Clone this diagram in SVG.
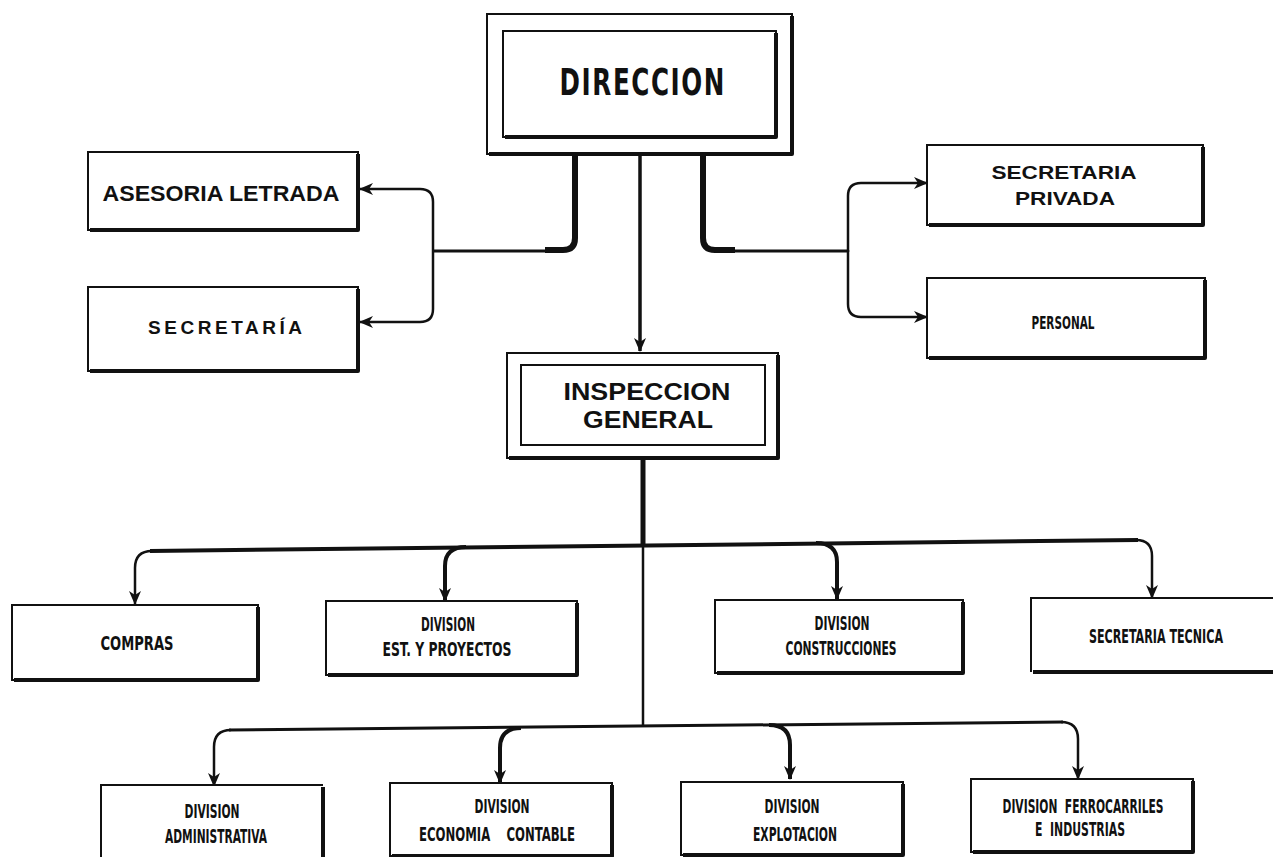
<svg xmlns="http://www.w3.org/2000/svg" width="1273" height="857" viewBox="0 0 1273 857">
<style>
.bx{fill:#fff;stroke:#111;stroke-width:2}
.nf{fill:#fff;stroke:none}
.sh{fill:none;stroke:#111;stroke-width:4;stroke-linejoin:round}
.ed{fill:none;stroke:#111;stroke-width:2}
.ln{fill:none;stroke:#111;stroke-linecap:butt;stroke-linejoin:round}
.h{font-family:"Liberation Sans",Arial,sans-serif;font-weight:bold;fill:#111;text-anchor:middle}
.c{font-family:"DejaVu Sans Condensed","Liberation Sans Narrow","DejaVu Sans",sans-serif;font-stretch:condensed;font-weight:bold;fill:#111;text-anchor:middle}
</style>
<defs>
<marker id="ar" viewBox="0 0 14 12" refX="13" refY="6" markerWidth="14" markerHeight="12" markerUnits="userSpaceOnUse" orient="auto">
<path d="M0,0 L14,6 L0,12 L4,6 Z" fill="#111"/>
</marker>
</defs>
<rect width="1273" height="857" fill="#fff"/>

<g id="connectors">
<path class="ln" stroke-width="3.5" d="M640,155 V351" marker-end="url(#ar)"/>
<path class="ln" stroke-width="6" d="M575,155 V238 Q575,250 563,250 H545"/>
<path class="ln" stroke-width="3" d="M550,251 H433"/>
<path class="ln" stroke-width="2.5" d="M433,252 V202 Q433,189 420,189 H360" marker-end="url(#ar)"/>
<path class="ln" stroke-width="2.5" d="M433,252 V309 Q433,322 420,322 H360" marker-end="url(#ar)"/>
<path class="ln" stroke-width="6" d="M703,155 V238 Q703,250 715,250 H735"/>
<path class="ln" stroke-width="3" d="M730,251 H848"/>
<path class="ln" stroke-width="2.5" d="M848,252 V196 Q848,183 861,183 H927" marker-end="url(#ar)"/>
<path class="ln" stroke-width="2.5" d="M848,250 V304 Q848,317 861,317 H927" marker-end="url(#ar)"/>
<path class="ln" stroke-width="5" d="M643,458 V544"/>
<path class="ln" stroke-width="2.5" d="M643,544 V726"/>
<path class="ln" stroke-width="4" d="M150,551 L1138,540"/>
<path class="ln" stroke-width="2.5" d="M152,551 Q135,551 135,568 V604" marker-end="url(#ar)"/>
<path class="ln" stroke-width="4" d="M466,547 Q445,547 445,566 V601" marker-end="url(#ar)"/>
<path class="ln" stroke-width="4" d="M816,543 Q837,543 837,562 V599" marker-end="url(#ar)"/>
<path class="ln" stroke-width="2.5" d="M1136,540 Q1152,540 1152,556 V598" marker-end="url(#ar)"/>
<path class="ln" stroke-width="3" d="M229,730 L1063,722"/>
<path class="ln" stroke-width="2.5" d="M231,730 Q214,730 214,747 V786" marker-end="url(#ar)"/>
<path class="ln" stroke-width="4" d="M521,728 Q500,728 500,748 V783" marker-end="url(#ar)"/>
<path class="ln" stroke-width="4" d="M769,725 Q790,725 790,745 V779" marker-end="url(#ar)"/>
<path class="ln" stroke-width="2.5" d="M1061,722 Q1078,722 1078,739 V779" marker-end="url(#ar)"/>
</g>

<g id="direccion">
<rect class="bx" x="487" y="14" width="305" height="140"/>
<path class="sh" stroke-width="5" d="M792,16 V154 H489"/>
<rect class="bx" stroke-width="3" x="503" y="31" width="273" height="106"/>
<path class="sh" d="M776,33 V137 H505"/>
<text class="c" transform="translate(642,95) scale(0.72,1)" x="0" y="0" font-size="38" textLength="229" lengthAdjust="spacing">DIRECCION</text>
</g>

<g id="asesoria">
<rect class="bx" x="88" y="152" width="270" height="78"/>
<path class="sh" d="M358,154 V230 H90"/>
<text class="h" x="221" y="201" font-size="22" textLength="237" lengthAdjust="spacingAndGlyphs">ASESORIA  LETRADA</text>
</g>

<g id="secretaria">
<rect class="bx" x="88" y="287" width="270" height="84"/>
<path class="sh" d="M358,289 V371 H90"/>
<text class="h" x="225" y="334" font-size="19" textLength="154" lengthAdjust="spacing">SECRETARÍA</text>
</g>

<g id="secretaria-privada">
<rect class="bx" x="927" y="145" width="276" height="80"/>
<path class="sh" d="M1203,147 V225 H929"/>
<text class="h" x="1064" y="179" font-size="19" textLength="145" lengthAdjust="spacingAndGlyphs">SECRETARIA</text>
<text class="h" x="1065" y="205" font-size="19" textLength="100" lengthAdjust="spacingAndGlyphs">PRIVADA</text>
</g>

<g id="personal">
<rect class="bx" x="927" y="278" width="278" height="80"/>
<path class="sh" d="M1205,280 V358 H929"/>
<text class="c" x="1063" y="329" font-size="17" textLength="63" lengthAdjust="spacingAndGlyphs">PERSONAL</text>
</g>

<g id="inspeccion">
<rect class="bx" x="507" y="353" width="271" height="105"/>
<path class="sh" d="M778,355 V458 H509"/>
<rect class="bx" stroke-width="2.5" x="521" y="365" width="244" height="80"/>
<text class="h" x="647" y="400" font-size="23" textLength="167" lengthAdjust="spacingAndGlyphs">INSPECCION</text>
<text class="h" x="648" y="428" font-size="23" textLength="130" lengthAdjust="spacingAndGlyphs">GENERAL</text>
</g>

<g id="compras">
<rect class="bx" x="12" y="605" width="246" height="75"/>
<path class="sh" d="M258,607 V680 H14"/>
<text class="c" x="137" y="650" font-size="20" textLength="73" lengthAdjust="spacingAndGlyphs">COMPRAS</text>
</g>

<g id="div-est-proyectos">
<rect class="bx" x="326" y="601" width="251" height="74"/>
<path class="sh" d="M577,603 V675 H328"/>
<text class="c" x="448" y="631" font-size="20" textLength="54" lengthAdjust="spacingAndGlyphs">DIVISION</text>
<text class="c" x="447" y="656" font-size="20" textLength="129" lengthAdjust="spacingAndGlyphs">EST.  Y  PROYECTOS</text>
</g>

<g id="div-construcciones">
<rect class="bx" x="715" y="600" width="248" height="73"/>
<path class="sh" d="M963,602 V673 H717"/>
<text class="c" x="842" y="630" font-size="20" textLength="55" lengthAdjust="spacingAndGlyphs">DIVISION</text>
<text class="c" x="841" y="655" font-size="20" textLength="111" lengthAdjust="spacingAndGlyphs">CONSTRUCCIONES</text>
</g>

<g id="secretaria-tecnica">
<rect class="nf" x="1031" y="598" width="242" height="74"/>
<path class="ed" d="M1273,598 H1031 V672"/>
<path class="sh" d="M1033,672 H1273"/>
<text class="c" x="1156" y="643" font-size="20" textLength="134" lengthAdjust="spacingAndGlyphs">SECRETARIA  TECNICA</text>
</g>

<g id="div-administrativa">
<rect class="nf" x="101" y="785" width="222" height="72"/>
<path class="ed" d="M101,857 V785 H323"/>
<path class="sh" d="M323,787 V857"/>
<text class="c" x="212" y="818" font-size="20" textLength="55" lengthAdjust="spacingAndGlyphs">DIVISION</text>
<text class="c" x="216" y="843" font-size="20" textLength="102" lengthAdjust="spacingAndGlyphs">ADMINISTRATIVA</text>
</g>

<g id="div-economia-contable">
<rect class="bx" x="390" y="783" width="222" height="73"/>
<path class="sh" d="M612,785 V856 H392"/>
<text class="c" x="502" y="813" font-size="20" textLength="55" lengthAdjust="spacingAndGlyphs">DIVISION</text>
<text class="c" x="497" y="841" font-size="20" textLength="156" lengthAdjust="spacingAndGlyphs" xml:space="preserve">ECONOMIA    CONTABLE</text>
</g>

<g id="div-explotacion">
<rect class="bx" x="681" y="782" width="222" height="73"/>
<path class="sh" d="M903,784 V855 H683"/>
<text class="c" x="792" y="813" font-size="20" textLength="55" lengthAdjust="spacingAndGlyphs">DIVISION</text>
<text class="c" x="795" y="841" font-size="20" textLength="84" lengthAdjust="spacingAndGlyphs">EXPLOTACION</text>
</g>

<g id="div-ferrocarriles">
<rect class="bx" x="971" y="779" width="222" height="73"/>
<path class="sh" d="M1193,781 V852 H973"/>
<text class="c" x="1083" y="813" font-size="20" textLength="161" lengthAdjust="spacingAndGlyphs" xml:space="preserve">DIVISION  FERROCARRILES</text>
<text class="c" x="1080" y="836" font-size="20" textLength="90" lengthAdjust="spacingAndGlyphs" xml:space="preserve">E  INDUSTRIAS</text>
</g>
</svg>
